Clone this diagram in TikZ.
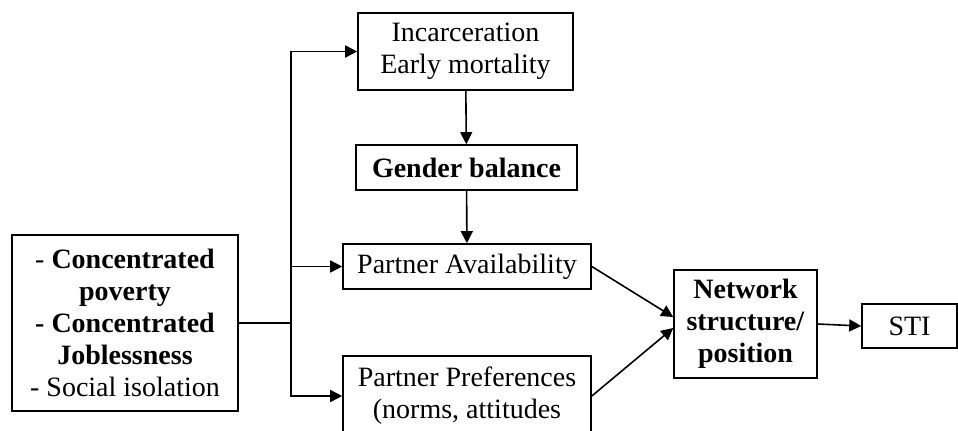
\documentclass[tikz,border=0pt]{standalone}
\usepackage{fontspec}
\setmainfont{Liberation Serif}
\usetikzlibrary{arrows.meta,calc,positioning}
\begin{document}
\begin{tikzpicture}[x=0.5pt, y=-0.5pt,
			factor/.style = {draw, line width=0.8pt, align=center, inner sep=0pt, font=\fontsize{14}{16}\selectfont},
			flow/.style = {line width=0.8pt, -{Triangle[length=6pt, width=6pt]}}
			]
			\useasboundingbox (0,0) rectangle (958,430);
			\clip (0,0) rectangle (958,430);
			
			\node[factor, minimum width=113pt, minimum height=88pt] (cond) at (125,323) {- \textbf{Concentrated}\\\textbf{poverty}\\\textbf{- Concentrated}\\\textbf{Joblessness}\\- Social isolation};
			\node[factor, minimum width=107.5pt, minimum height=38.5pt] (incar) at (465.5,51.5) {Incarceration\\Early mortality};
			\node[factor, minimum width=110.5pt, minimum height=22.5pt] (gender) at (466.5,167.5) {\textbf{Gender balance}};
			\node[factor, minimum width=124pt, minimum height=22.5pt] (avail) at (467,266.5) {Partner Availability};
			\node[factor, minimum width=124pt, minimum height=40pt] (prefs) at (467,396) {Partner Preferences\\(norms, attitudes};
			\node[factor, minimum width=71.5pt, minimum height=54pt] (net) at (745.5,324) {\textbf{Network}\\\textbf{structure/}\\\textbf{position}};
			\node[factor, minimum width=47.5pt, minimum height=22pt] (sti) at (909.5,326) {STI};
			
			% branching from the neighbourhood box
			\coordinate (split) at (291,323);
			\draw[line width=0.8pt] (cond.east) -- (split);
			\draw[flow] (split) |- (incar.west);
			\draw[flow] (split) |- (avail.west);
			\draw[flow] (split) |- (prefs.west);
			
			\draw[flow] (incar) -- (gender);
			\draw[flow] (gender) -- (avail);
			\draw[flow] (avail.east) -- ($(net.west)+(0,-7)$);
			\draw[flow] (prefs.east) -- ($(net.west)+(0,4)$);
			\draw[flow] (net.east) -- (sti.west);
		\end{tikzpicture}
\end{document}
